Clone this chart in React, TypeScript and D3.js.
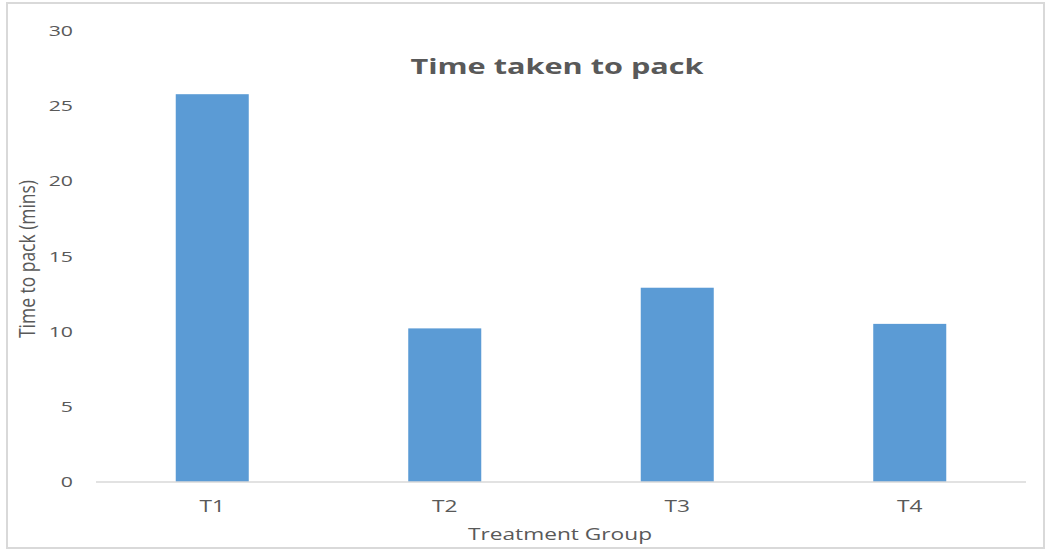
import React from "react";
import * as d3 from "d3";

const categories = ["T1", "T2", "T3", "T4"];
const values = [25.75, 10.2, 12.9, 10.5];
const yTicks = [0, 5, 10, 15, 20, 25, 30];
const title = "Time taken to pack";
const xTitle = "Treatment Group";
const yTitle = "Time to pack (mins)";

const SX = 1.42;
const font = "'Open Sans', 'DejaVu Sans', sans-serif";
const grey = "#595959";

function SText(props: { x: number; y: number; size: number; anchor?: string; bold?: boolean; dy?: string; sx?: number; children: any }) {
  return (
    <text
      transform={`translate(${props.x},${props.y}) scale(${props.sx || SX},1)`}
      dy={props.dy}
      textAnchor={props.anchor || "middle"}
      fontFamily={font}
      fontWeight={props.bold ? "bold" : "normal"}
      fontSize={props.size}
      fill={grey}
    >
      {props.children}
    </text>
  );
}

export default function App() {
  const W = 1047, H = 550;
  const x = d3.scaleBand<string>().domain(categories).range([96, 1026]).paddingInner(0.686).paddingOuter(0.343);
  const y = d3.scaleLinear().domain([0, 30]).range([482, 30.2]);
  return (
    <svg width={W} height={H} style={{ position: "absolute", left: 0, top: 0, background: "#fff" }}>
      <rect x={7} y={3} width={1037} height={545} fill="#fff" stroke="#d9d9d9" strokeWidth={2} />
      <SText x={557} y={74} size={21} bold sx={1.46}>{title}</SText>
      {yTicks.map(t => (
        <SText key={t} x={73} y={y(t)} dy="0.36em" anchor="end" size={15}>{t}</SText>
      ))}
      {categories.map((c, i) => (
        <rect key={c} x={x(c)} y={y(values[i])} width={x.bandwidth()} height={y(0) - y(values[i])} fill="#5b9bd5" />
      ))}
      <line x1={96} x2={1026} y1={y(0)} y2={y(0)} stroke="#d9d9d9" strokeWidth={1.5} />
      {categories.map(c => (
        <SText key={c} x={(x(c) as number) + x.bandwidth() / 2} y={512} size={16}>{c}</SText>
      ))}
      <SText x={560} y={540} size={16}>{xTitle}</SText>
      <text transform={`translate(35,259) rotate(-90) scale(1,${SX})`} textAnchor="middle" fontFamily={font} fontSize={15} fill={grey} textLength={158} lengthAdjust="spacingAndGlyphs">{yTitle}</text>
    </svg>
  );
}
